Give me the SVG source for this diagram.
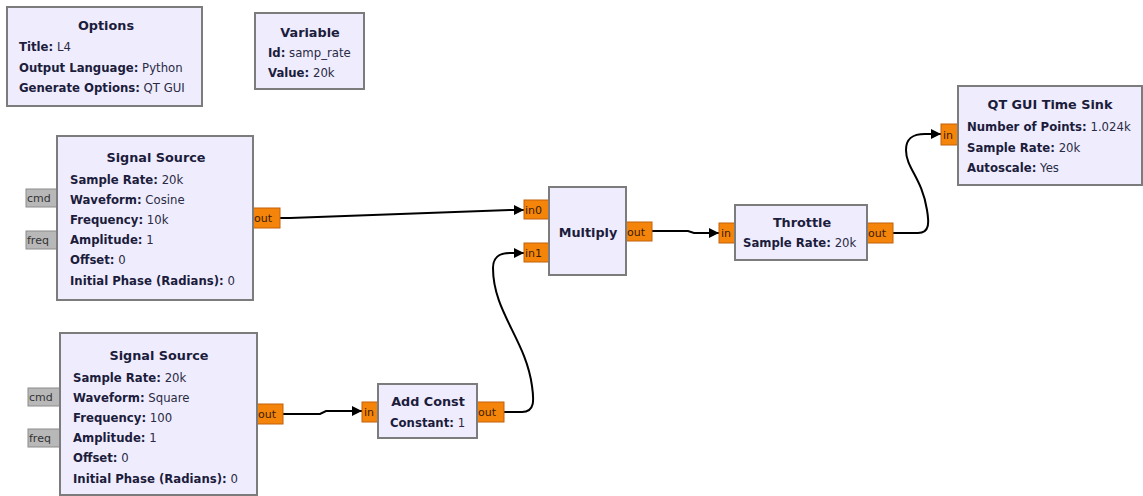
<svg xmlns="http://www.w3.org/2000/svg" width="1143" height="496" viewBox="0 0 1143 496">
<defs>
<style>
.blk{fill:#efedfd;stroke:#7c7c7c;stroke-width:2}
.port{fill:#f5840a;stroke:#c2620a;stroke-width:1}
.gport{fill:#b8b8b8;stroke:#8c8c8c;stroke-width:1}
.t{font-family:"DejaVu Sans",sans-serif;font-size:12.8px;font-weight:bold;fill:#1c1c3c;text-anchor:middle}
.p{font-family:"DejaVu Sans",sans-serif;font-size:11.7px;fill:#2a2a44}
.k{font-weight:bold;fill:#1c1c3c}
.pl{font-family:"DejaVu Sans",sans-serif;font-size:11px;fill:#3a2000}
.gl{font-family:"DejaVu Sans",sans-serif;font-size:11px;fill:#333}
.c{fill:none;stroke:#000;stroke-width:2}
</style>
<marker id="arr" viewBox="0 0 10 10" refX="10" refY="5" markerWidth="15" markerHeight="10" markerUnits="userSpaceOnUse" orient="auto"><path d="M0,0 L10,5 L0,10 z" fill="#000"/></marker>
</defs>
<rect width="1143" height="496" fill="#fff"/>

<g id="connectors">
<path class="c" marker-end="url(#arr)" d="M280,218 L290,218 L510,210 L524,210"/>
<path class="c" marker-end="url(#arr)" d="M283,414 L320,414 L326,411 L362,411"/>
<path class="c" marker-end="url(#arr)" d="M504,412 L522,412 C535,412 534,400 532,386 C526,340 493,312 493,268 C493,257 499,253 510,253 L524,253"/>
<path class="c" marker-end="url(#arr)" d="M652,231 L688,231 L694,233 L719,233"/>
<path class="c" marker-end="url(#arr)" d="M893,233 L918,233 C930,233 929,222 927,210 C922,178 906,168 906,150 C906,138 913,134 925,134 L941,134"/>
</g>

<g id="options">
<rect class="blk" x="7" y="7" width="195" height="99"/>
<text class="t" x="106" y="30">Options</text>
<text class="p" x="19" y="51"><tspan class="k">Title:</tspan> L4</text>
<text class="p" x="19" y="72"><tspan class="k">Output Language:</tspan> Python</text>
<text class="p" x="19" y="92"><tspan class="k">Generate Options:</tspan> QT GUI</text>
</g>

<g id="variable">
<rect class="blk" x="255" y="13" width="109" height="76"/>
<text class="t" x="310" y="37">Variable</text>
<text class="p" x="268" y="57"><tspan class="k">Id:</tspan> samp_rate</text>
<text class="p" x="268" y="77"><tspan class="k">Value:</tspan> 20k</text>
</g>

<g id="signal_source_0">
<rect class="gport" x="26" y="189" width="31" height="18"/>
<text class="gl" x="27" y="202">cmd</text>
<rect class="gport" x="26" y="231" width="31" height="18"/>
<text class="gl" x="27" y="244">freq</text>
<rect class="port" x="253" y="208" width="27" height="20"/>
<text class="pl" x="254" y="222">out</text>
<rect class="blk" x="57" y="136" width="196" height="164"/>
<text class="t" x="156" y="162">Signal Source</text>
<text class="p" x="70" y="184"><tspan class="k">Sample Rate:</tspan> 20k</text>
<text class="p" x="70" y="204"><tspan class="k">Waveform:</tspan> Cosine</text>
<text class="p" x="70" y="224"><tspan class="k">Frequency:</tspan> 10k</text>
<text class="p" x="70" y="244"><tspan class="k">Amplitude:</tspan> 1</text>
<text class="p" x="70" y="264"><tspan class="k">Offset:</tspan> 0</text>
<text class="p" x="70" y="285"><tspan class="k">Initial Phase (Radians):</tspan> 0</text>
</g>

<g id="signal_source_1">
<rect class="gport" x="28" y="388" width="32" height="18"/>
<text class="gl" x="29" y="401">cmd</text>
<rect class="gport" x="28" y="429" width="32" height="18"/>
<text class="gl" x="29" y="442">freq</text>
<rect class="port" x="257" y="404" width="26" height="20"/>
<text class="pl" x="258" y="418">out</text>
<rect class="blk" x="60" y="333" width="197" height="162"/>
<text class="t" x="159" y="360">Signal Source</text>
<text class="p" x="73" y="382"><tspan class="k">Sample Rate:</tspan> 20k</text>
<text class="p" x="73" y="402"><tspan class="k">Waveform:</tspan> Square</text>
<text class="p" x="73" y="422"><tspan class="k">Frequency:</tspan> 100</text>
<text class="p" x="73" y="442"><tspan class="k">Amplitude:</tspan> 1</text>
<text class="p" x="73" y="462"><tspan class="k">Offset:</tspan> 0</text>
<text class="p" x="73" y="483"><tspan class="k">Initial Phase (Radians):</tspan> 0</text>
</g>

<g id="add_const">
<rect class="port" x="362" y="402" width="16" height="20"/>
<text class="pl" x="364" y="416">in</text>
<rect class="port" x="477" y="402" width="27" height="20"/>
<text class="pl" x="478" y="416">out</text>
<rect class="blk" x="378" y="384" width="99" height="54"/>
<text class="t" x="428" y="406">Add Const</text>
<text class="p" x="390" y="427"><tspan class="k">Constant:</tspan> 1</text>
</g>

<g id="multiply">
<rect class="port" x="524" y="200" width="25" height="19"/>
<text class="pl" x="525" y="214">in0</text>
<rect class="port" x="524" y="243" width="25" height="19"/>
<text class="pl" x="525" y="257">in1</text>
<rect class="port" x="626" y="222" width="26" height="19"/>
<text class="pl" x="627" y="236">out</text>
<rect class="blk" x="549" y="187" width="77" height="88"/>
<text class="t" x="588" y="237">Multiply</text>
</g>

<g id="throttle">
<rect class="port" x="719" y="223" width="16" height="20"/>
<text class="pl" x="721" y="237">in</text>
<rect class="port" x="867" y="223" width="26" height="20"/>
<text class="pl" x="868" y="237">out</text>
<rect class="blk" x="735" y="205" width="132" height="55"/>
<text class="t" x="802" y="227">Throttle</text>
<text class="p" x="743" y="247"><tspan class="k">Sample Rate:</tspan> 20k</text>
</g>

<g id="qtgui_time_sink">
<rect class="port" x="941" y="124" width="17" height="21"/>
<text class="pl" x="943" y="139">in</text>
<rect class="blk" x="958" y="86" width="184" height="99"/>
<text class="t" x="1050" y="109">QT GUI Time Sink</text>
<text class="p" x="967" y="131"><tspan class="k">Number of Points:</tspan> 1.024k</text>
<text class="p" x="967" y="152"><tspan class="k">Sample Rate:</tspan> 20k</text>
<text class="p" x="967" y="172"><tspan class="k">Autoscale:</tspan> Yes</text>
</g>
</svg>
